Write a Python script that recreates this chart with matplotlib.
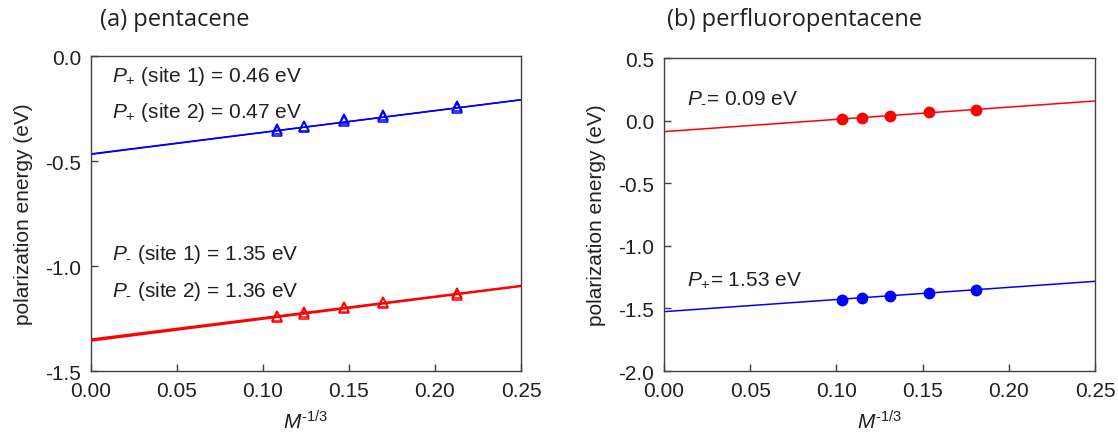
import numpy as np
import matplotlib.pyplot as plt

plt.rcParams['font.family'] = ['Liberation Sans', 'DejaVu Sans']
plt.rcParams['mathtext.fontset'] = 'custom'
plt.rcParams['mathtext.rm'] = 'Liberation Sans'
plt.rcParams['mathtext.it'] = 'Liberation Sans:italic'
plt.rcParams['axes.unicode_minus'] = False

# (a) pentacene: M^-1/3 and polarization energies (eV)
x_pen = [0.108, 0.124, 0.147, 0.170, 0.213]
pplus_site1 = [-0.348, -0.331, -0.299, -0.280, -0.239]
pplus_site2 = [-0.356, -0.339, -0.307, -0.288, -0.247]
pminus_site1 = [-1.236, -1.220, -1.194, -1.170, -1.129]
pminus_site2 = [-1.244, -1.228, -1.201, -1.178, -1.136]

# linear fits (intercept, slope)
fit_pplus = [(-0.466, 1.03), (-0.468, 1.04)]
fit_pminus = [(-1.349, 1.02), (-1.356, 1.04)]

# (b) perfluoropentacene
x_pfp = [0.103, 0.115, 0.131, 0.154, 0.181]
pminus_pfp = [0.010, 0.021, 0.039, 0.069, 0.087]
pplus_pfp = [-1.430, -1.419, -1.403, -1.375, -1.356]
fit_pminus_pfp = (-0.088, 0.98)
fit_pplus_pfp = (-1.526, 0.97)

BLUE = '#0000ff'
RED = '#ff0000'
DARK = '#231f20'

fig = plt.figure(figsize=(11.18, 4.35), dpi=100)
ax1 = fig.add_axes([0.0814, 0.1448, 0.3846, 0.724])
ax2 = fig.add_axes([0.5939, 0.1448, 0.3855, 0.7195])

xfit = np.array([0.0, 0.25])

for b, m in fit_pplus:
    ax1.plot(xfit, b + m * xfit, color=BLUE, lw=1.1)
for b, m in fit_pminus:
    ax1.plot(xfit, b + m * xfit, color=RED, lw=1.4)
for ys in (pplus_site1, pplus_site2):
    ax1.plot(x_pen, ys, ls='none', marker='^', ms=7.5, mfc='none', mec=BLUE, mew=1.1)
for ys in (pminus_site1, pminus_site2):
    ax1.plot(x_pen, ys, ls='none', marker='^', ms=7.5, mfc='none', mec=RED, mew=1.1)

b, m = fit_pminus_pfp
ax2.plot(xfit, b + m * xfit, color=RED, lw=1.1)
b, m = fit_pplus_pfp
ax2.plot(xfit, b + m * xfit, color=BLUE, lw=1.1)
ax2.plot(x_pfp, pminus_pfp, ls='none', marker='o', ms=7.5, color=RED)
ax2.plot(x_pfp, pplus_pfp, ls='none', marker='o', ms=7.5, color=BLUE)

txt = dict(fontsize=15, color=DARK, va='baseline', ha='left')
ax1.text(0.0122, -0.118, r'$\mathit{P}_{+}$ (site 1) = 0.46 eV', **txt)
ax1.text(0.0122, -0.292, r'$\mathit{P}_{+}$ (site 2) = 0.47 eV', **txt)
ax1.text(0.0122, -0.967, r'$\mathit{P}_{\text{-}}$ (site 1) = 1.35 eV', **txt)
ax1.text(0.0122, -1.144, r'$\mathit{P}_{\text{-}}$ (site 2) = 1.36 eV', **txt)
ax2.text(0.0133, 0.154, r'$\mathit{P}_{\text{-}}$= 0.09 eV', **txt)
ax2.text(0.0133, -1.311, r'$\mathit{P}_{+}$= 1.53 eV', **txt)

ax1.set_ylim(-1.5, 0.0)
ax1.set_yticks([0.0, -0.5, -1.0, -1.5])
ax2.set_ylim(-2.0, 0.5)
ax2.set_yticks([0.5, 0.0, -0.5, -1.0, -1.5, -2.0])

for ax in (ax1, ax2):
    ax.set_xlim(0.0, 0.25)
    ax.set_xticks([0.0, 0.05, 0.10, 0.15, 0.20, 0.25])
    ax.xaxis.set_major_formatter(plt.FormatStrFormatter('%.2f'))
    ax.yaxis.set_major_formatter(plt.FormatStrFormatter('%.1f'))
    ax.tick_params(direction='in', length=5, width=1, colors='#404040',
                   labelcolor=DARK, labelsize=15, pad=7)
    for s in ax.spines.values():
        s.set_color('#404040')
        s.set_linewidth(1)
    ax.set_xlabel(r'$M^{\text{-}1/3}$', fontsize=15, color=DARK, labelpad=7)
    ax.set_ylabel('polarization energy (eV)', fontsize=15, color=DARK, labelpad=9)

fig.text(100 / 1118, 1 - 20 / 435, '(a) pentacene', fontsize=17, family='Open Sans',
         color=DARK, va='center', ha='left')
fig.text(667 / 1118, 1 - 20 / 435, '(b) perfluoropentacene', fontsize=17, family='Open Sans',
         color=DARK, va='center', ha='left')

fig.savefig('out.png', dpi=100)
